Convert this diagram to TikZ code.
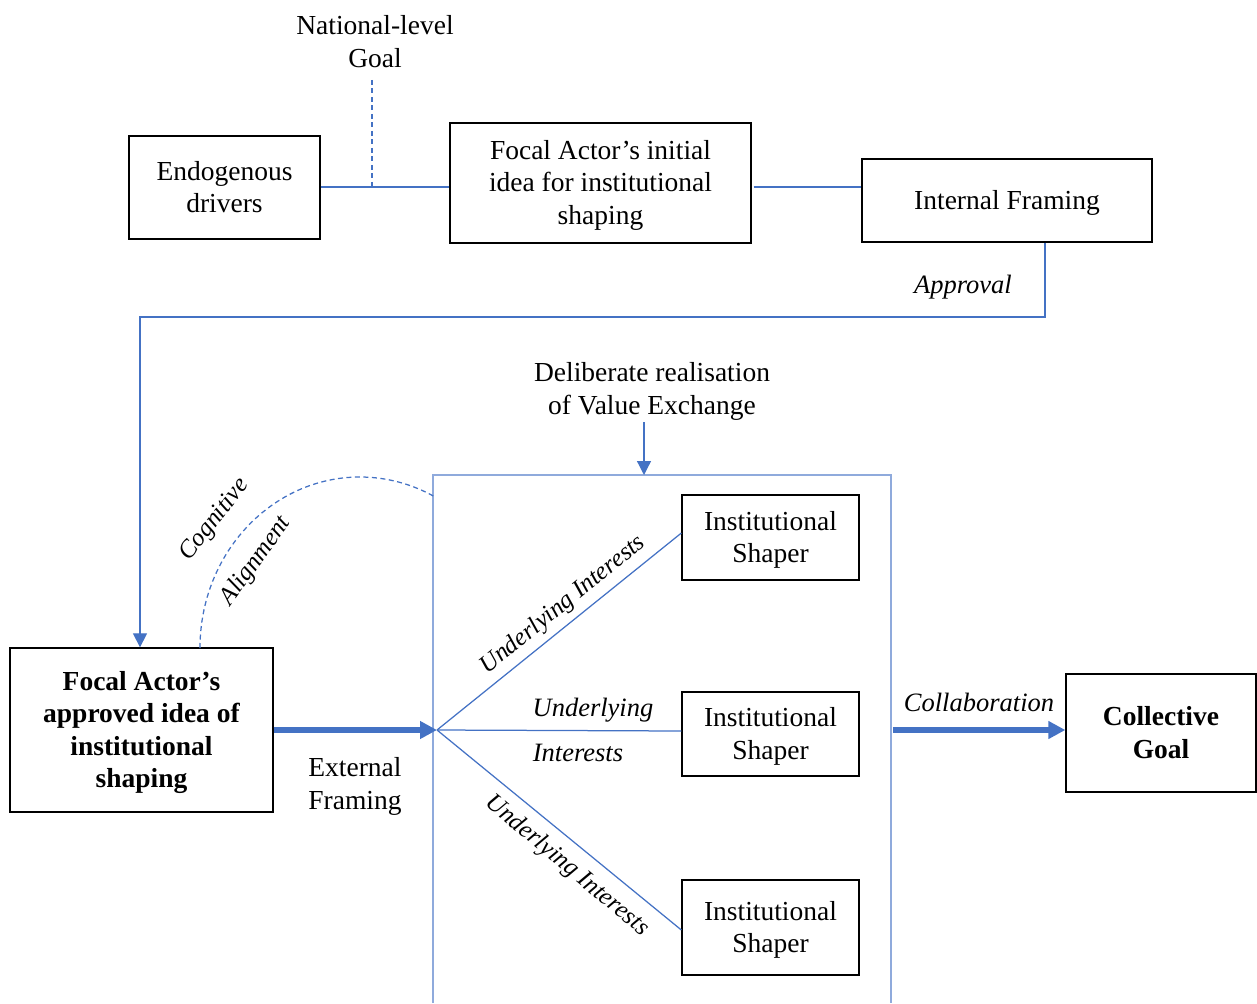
\documentclass[tikz,border=0pt]{standalone}
\usepackage{fontspec}
\setmainfont{Liberation Serif}
\usetikzlibrary{arrows.meta}
\definecolor{link}{HTML}{4472C4}
\definecolor{framecol}{HTML}{8FAADC}

\begin{document}
\begin{tikzpicture}[x=1pt,y=-1pt,
  txt/.style={font=\fontsize{27.5}{32.5}\selectfont, align=center, inner sep=0pt, text depth=1.5pt},
  lbl/.style={font=\fontsize{26.5}{32}\selectfont\itshape, align=center, inner sep=0pt},
  slant/.style={font=\fontsize{25}{30}\selectfont\itshape, inner sep=0pt},
  box/.style={draw=black, line width=1.3pt, txt},
  boldbox/.style={box, font=\fontsize{27.5}{32.5}\selectfont\bfseries},
  conn/.style={draw=link, line width=1.25pt},
  tip/.style={-{Triangle[length=14pt,width=14pt]}},
  flow/.style={draw=link, line width=5.5pt, -{Triangle[length=17pt,width=17pt]}},
  dashlink/.style={conn, dash pattern=on 5pt off 3.5pt},
  arena/.style={draw=framecol, line width=1.5pt}
]
\useasboundingbox (0,0) rectangle (1257,1003);

% top row
\node[box, minimum width=191pt, minimum height=103pt] (endo) at (224.5,187.5) {Endogenous\\drivers};
\node[box, minimum width=301pt, minimum height=120pt] (init) at (600.5,183) {Focal Actor’s initial\\idea for institutional\\shaping};
\node[box, minimum width=290pt, minimum height=83pt] (intf) at (1007,200.5) {Internal Framing};
\node[txt] (natgoal) at (375,42) {National-level\\Goal};
\coordinate (ngfoot) at (372,80);
\coordinate (rail) at ([yshift=0.5pt]endo.east);

\draw[conn] (rail) -- (rail -| init.west);
\draw[conn] ([xshift=2pt]init.east |- rail) -- (rail -| intf.west);
\draw[dashlink] (ngfoot) -- (ngfoot |- rail);

% approval loop back to the approved idea
\node[boldbox, minimum width=263pt, minimum height=164pt] (appr) at (141.5,730) {Focal Actor’s\\approved idea of\\institutional\\shaping};
\coordinate (aprturn) at (1045,317);
\coordinate (aprdown) at (140,317);
\draw[conn, tip] (intf.south -| aprturn) -- (aprturn) -- (aprdown) -- (aprdown |- appr.north);
\node[lbl] (approval) at (963,287) {Approval};

% value exchange arena
\draw[arena] (433,1003) -- (433,475) -- (891,475) -- (891,1003);
\node[txt] (delib) at (652,389) {Deliberate realisation\\of Value Exchange};
\coordinate (delibfrom) at (644,422);
\coordinate (delibto) at (644,475);
\draw[conn, tip] (delibfrom) -- (delibto);

% shapers
\node[box, minimum width=177pt, minimum height=85pt] (sh1) at (770.5,537.5) {Institutional\\Shaper};
\node[box, minimum width=177pt, minimum height=84pt] (sh2) at (770.5,734) {Institutional\\Shaper};
\node[box, minimum width=177pt, minimum height=95pt] (sh3) at (770.5,927.5) {Institutional\\Shaper};

\coordinate (hub) at (437,730);
\draw[conn] (hub) -- ([yshift=4.5pt]sh1.west);
\draw[conn] (hub) -- ([yshift=3pt]sh2.west);
\draw[conn] (hub) -- ([yshift=-2.5pt]sh3.west);

\draw[flow] (appr.east) -- (hub);
\node[txt] (ext) at (355,784) {External\\Framing};

\node[slant, rotate=39] (ui1) at (563,605) {Underlying Interests};
\node[lbl] (ui2a) at (593,710) {Underlying};
\node[lbl] (ui2b) at (578,753) {Interests};
\node[slant, rotate=-40] (ui3) at (567,866) {Underlying Interests};

% cognitive alignment
\coordinate (arcstart) at (200,648);
\draw[dashlink] (arcstart) arc[start angle=180, end angle=62, x radius=160pt, y radius=171pt];
\node[slant, rotate=52] (cog) at (215,520) {Cognitive};
\node[slant, rotate=54] (align) at (256,561) {Alignment};

% collective goal
\node[boldbox, minimum width=190pt, minimum height=118pt] (goal) at (1161,733) {Collective\\Goal};
\coordinate (collfrom) at (893,730);
\draw[flow] (collfrom) -- (collfrom -| goal.west);
\node[lbl] (collab) at (979,702) {Collaboration};

\end{tikzpicture}
\end{document}
